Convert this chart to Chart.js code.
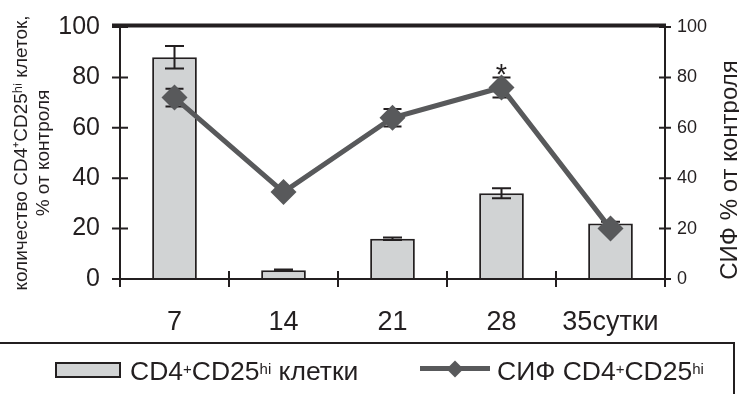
<!DOCTYPE html>
<html><head><meta charset="utf-8">
<script src="https://cdn.jsdelivr.net/npm/chart.js@4/dist/chart.umd.min.js"></script>
<style>
html,body{margin:0;padding:0;background:#fff;}
#wrap{position:relative;width:739px;height:394px;overflow:hidden;font-family:"Liberation Sans",Arial,sans-serif;color:#231f20;}
#c{position:absolute;left:0;top:0;}
#legend{position:absolute;left:-10px;top:342px;width:745px;height:70px;border:2px solid #231f20;box-sizing:border-box;}
.sw1{position:absolute;left:55px;top:362px;width:66px;height:16px;box-sizing:border-box;border:2px solid #231f20;background:#d1d3d4;}
.sw2{position:absolute;left:420px;top:366px;width:70px;height:5px;background:#58595b;}
.dia{position:absolute;left:449px;top:362.5px;width:12px;height:12px;background:#58595b;transform:rotate(45deg);}
.lt{position:absolute;top:358px;font-size:26.5px;line-height:26px;white-space:nowrap;}
.lt sup{font-size:15px;vertical-align:top;position:relative;top:-2px;}
</style>
</head><body>
<div id="wrap">
<canvas id="c" width="739" height="394"></canvas>
<div id="legend"></div>
<div class="sw1"></div>
<div class="lt" style="left:130px">CD4<sup>+</sup>CD25<sup>hi</sup> клетки</div>
<div class="sw2"></div><div class="dia"></div>
<div class="lt" style="left:497px">СИФ CD4<sup>+</sup>CD25<sup>hi</sup></div>
</div>
<script>
const categories = ['7', '14', '21', '28', '35сутки'];
const cellValues = [88, 3.5, 16, 34, 22];
const cellErrors = [4.5, 0.3, 0.5, 2, 0.7];
const sifValues = [72, 34.5, 64, 76, 20];
const sifErrors = [3.5, 0, 3.5, 4, 0];
const sifMarks = ['', '', '', '*', ''];
const leftTicks = [0, 20, 40, 60, 80, 100];
const rightTicks = [0, 20, 40, 60, 80, 100];
const leftTitle = ['количество CD4⁺CD25ʰⁱ клеток,', '% от контроля'];
const rightTitle = 'СИФ % от контроля';

const INK = '#231f20';
const FONT = '"Liberation Sans", Arial, sans-serif';

const decor = {
  id: 'decor',
  beforeDatasetDraw(chart, args) {
    if (args.index !== 1) return;
    const ctx = chart.ctx, ys = chart.scales.y2, meta = chart.getDatasetMeta(1);
    ctx.save();
    ctx.strokeStyle = INK; ctx.lineWidth = 2;
    sifValues.forEach((v, i) => {
      const e = sifErrors[i]; if (!e) return;
      const x = meta.data[i].x, t = ys.getPixelForValue(v + e), b = ys.getPixelForValue(v - e);
      ctx.beginPath();
      ctx.moveTo(x, t); ctx.lineTo(x, b);
      ctx.moveTo(x - 9, t); ctx.lineTo(x + 9, t);
      ctx.moveTo(x - 9, b); ctx.lineTo(x + 9, b);
      ctx.stroke();
    });
    ctx.restore();
  },
  afterDatasetDraw(chart, args) {
    if (args.index !== 0) return;
    const ctx = chart.ctx, ys = chart.scales.y, meta = chart.getDatasetMeta(0);
    ctx.save();
    ctx.strokeStyle = INK; ctx.lineWidth = 2;
    cellValues.forEach((v, i) => {
      const e = cellErrors[i];
      const x = meta.data[i].x, t = ys.getPixelForValue(v + e), b = ys.getPixelForValue(v - e);
      ctx.beginPath();
      ctx.moveTo(x, t); ctx.lineTo(x, b);
      ctx.moveTo(x - 9.5, t); ctx.lineTo(x + 9.5, t);
      ctx.moveTo(x - 9.5, b); ctx.lineTo(x + 9.5, b);
      ctx.stroke();
    });
    ctx.restore();
  },
  afterDraw(chart) {
    const ctx = chart.ctx, ca = chart.chartArea;
    const xs = chart.scales.x, ys = chart.scales.y, y2 = chart.scales.y2;
    ctx.save();
    ctx.strokeStyle = INK; ctx.lineCap = 'butt';
    ctx.lineWidth = 4;
    ctx.beginPath(); ctx.moveTo(ca.left - 8, ca.top - 1.5); ctx.lineTo(ca.right + 1, ca.top - 1.5); ctx.stroke();
    ctx.lineWidth = 2;
    ctx.beginPath();
    ctx.moveTo(ca.left, ca.top); ctx.lineTo(ca.left, ca.bottom + 8);
    ctx.moveTo(ca.right, ca.top); ctx.lineTo(ca.right, ca.bottom + 8);
    ctx.moveTo(ca.left - 8, ca.bottom); ctx.lineTo(ca.right + 2, ca.bottom);
    leftTicks.forEach(v => { const y = ys.getPixelForValue(v); ctx.moveTo(ca.left - 8, y); ctx.lineTo(ca.left + 8, y); });
    rightTicks.forEach(v => { const y = y2.getPixelForValue(v); ctx.moveTo(ca.right - 6, y); ctx.lineTo(ca.right + 6, y); });
    for (let i = 0; i < categories.length - 1; i++) {
      const x = (xs.getPixelForValue(i) + xs.getPixelForValue(i + 1)) / 2;
      ctx.moveTo(x, ca.bottom - 8); ctx.lineTo(x, ca.bottom + 8);
    }
    ctx.stroke();
    const meta = chart.getDatasetMeta(1);
    ctx.fillStyle = INK;
    ctx.font = '29px ' + FONT;
    ctx.textAlign = 'center'; ctx.textBaseline = 'alphabetic';
    sifMarks.forEach((m, i) => {
      if (!m) return;
      const y = y2.getPixelForValue(sifValues[i] + sifErrors[i]);
      ctx.fillText(m, meta.data[i].x, y + 7);
    });
    ctx.translate(730, 170);
    ctx.rotate(-Math.PI / 2);
    ctx.font = '24px ' + FONT;
    ctx.textAlign = 'center'; ctx.textBaseline = 'middle';
    ctx.fillText(rightTitle, 0, 0);
    ctx.restore();
  }
};

new Chart(document.getElementById('c'), {
  data: {
    labels: categories,
    datasets: [
      {
        type: 'bar', label: 'CD4+CD25hi клетки', data: cellValues, yAxisID: 'y', order: 1,
        backgroundColor: '#d1d3d4', borderColor: INK, borderWidth: 2,
        categoryPercentage: 1, barPercentage: 0.41
      },
      {
        type: 'line', label: 'СИФ CD4+CD25hi', data: sifValues, yAxisID: 'y2', order: 0,
        borderColor: '#58595b', borderWidth: 5, backgroundColor: '#58595b',
        pointStyle: 'rectRot', pointRadius: 13, pointBorderWidth: 0, pointBackgroundColor: '#58595b',
        tension: 0
      }
    ]
  },
  options: {
    responsive: false, animation: false, devicePixelRatio: 1,
    layout: { padding: { top: 27, left: 0, right: 0, bottom: 0 } },
    plugins: { legend: { display: false }, tooltip: { enabled: false } },
    scales: {
      x: {
        type: 'category', offset: true,
        grid: { display: false, drawTicks: false }, border: { display: false },
        ticks: { color: INK, font: { family: FONT, size: 27 }, padding: 27, maxRotation: 0, autoSkip: false },
        afterFit(s) { s.height = 115; s.paddingLeft = 0; s.paddingRight = 0; }
      },
      y: {
        position: 'left', min: 0, max: 100,
        grid: { display: false, drawTicks: false }, border: { display: false },
        afterBuildTicks(s) { s.ticks = leftTicks.map(v => ({ value: v })); },
        ticks: { color: INK, font: { family: FONT, size: 25 }, padding: 20 },
        title: { display: true, text: leftTitle, color: INK, font: { family: FONT, size: 19 }, padding: { top: 10, bottom: 0 } },
        afterFit(s) { s.width = 120; s.paddingTop = 0; s.paddingBottom = 0; }
      },
      y2: {
        position: 'right', min: 0, max: 100,
        grid: { display: false, drawTicks: false }, border: { display: false },
        afterBuildTicks(s) { s.ticks = rightTicks.map(v => ({ value: v })); },
        ticks: { color: INK, font: { family: FONT, size: 18 }, padding: 12 },
        afterFit(s) { s.width = 74; s.paddingTop = 0; s.paddingBottom = 0; }
      }
    }
  },
  plugins: [decor]
});
</script>
</body></html>
